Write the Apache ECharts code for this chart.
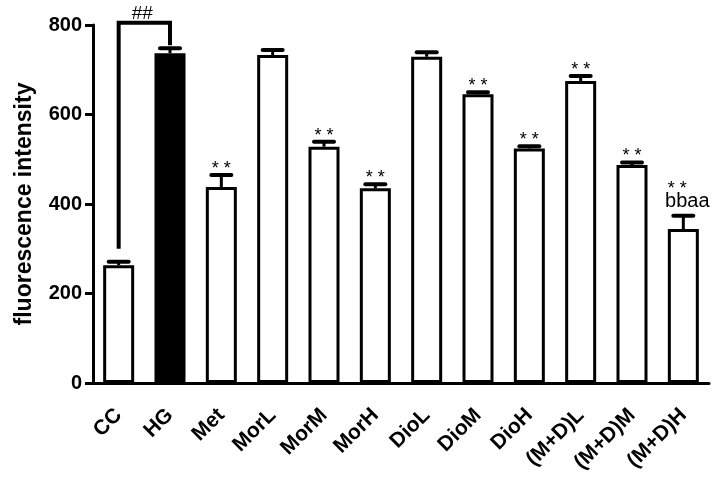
<!DOCTYPE html>
<html><head><meta charset="utf-8">
<script src="https://cdn.jsdelivr.net/npm/echarts@6/dist/echarts.min.js"></script>
<style>html,body{margin:0;padding:0;background:#fff}#c{width:726px;height:481px}</style>
</head><body><div id="c"></div>
<script>
const categories = ['CC','HG','Met','MorL','MorM','MorH','DioL','DioM','DioH','(M+D)L','(M+D)M','(M+D)H'];
const values = [263, 737, 438, 733, 528, 435, 729, 645, 524, 675, 487, 344];
const errors = [8, 11, 27, 11, 11, 9, 10, 5, 5, 11, 6, 30];
const stars = ['', '', '**', '', '**', '**', '', '**', '**', '**', '**', '**'];
const extra = ['', '', '', '', '', '', '', '', '', '', '', 'bbaa'];
const fillColors = ['#fff','#000','#fff','#fff','#fff','#fff','#fff','#fff','#fff','#fff','#fff','#fff'];
const yTicks = [0, 200, 400, 600, 800];
const bracketCats = ['CC','CC','HG','HG'];
const bracketVals = [300, 805, 805, 755];
const bracketLabel = '##';

const FONT = 'Arial, "Liberation Sans", sans-serif';
const chart = echarts.init(document.getElementById('c'));
chart.setOption({
  animation: false,
  backgroundColor: '#fff',
  grid: { left: 93, right: 17, top: 25, bottom: 98, containLabel: false },
  xAxis: {
    type: 'category', data: categories,
    axisLine: { lineStyle: { color: '#000', width: 3 } },
    axisTick: { alignWithLabel: true, length: 8, lineStyle: { color: '#000', width: 3 } },
    axisLabel: { rotate: 45, color: '#000', fontWeight: 'bold', fontSize: 21, fontFamily: FONT, margin: 29, interval: 0 }
  },
  yAxis: {
    type: 'value', min: yTicks[0], max: yTicks[yTicks.length-1], interval: 200,
    name: 'fluorescence intensity', nameLocation: 'middle', nameGap: 57,
    nameTextStyle: { color: '#000', fontWeight: 'bold', fontSize: 23, fontFamily: FONT },
    axisLine: { show: true, lineStyle: { color: '#000', width: 3 } },
    axisTick: { show: true, length: 8, lineStyle: { color: '#000', width: 3 } },
    axisLabel: { color: '#000', fontWeight: 'bold', fontSize: 20, fontFamily: FONT, margin: 11 },
    splitLine: { show: false }
  },
  series: [
    {
      type: 'bar', barWidth: 31,
      data: values.map((v, i) => ({ value: v, itemStyle: { color: fillColors[i] } })),
      itemStyle: { borderColor: '#000', borderWidth: 3 },
      z: 2
    },
    {
      type: 'custom', z: 3,
      data: values.map((v, i) => [i, v, errors[i]]),
      renderItem: function (params, api) {
        const i = api.value(0), v = api.value(1), e = api.value(2);
        const p0 = api.coord([i, v]);
        const p1 = api.coord([i, v + e]);
        const children = [
          { type: 'line', shape: { x1: p0[0], y1: p0[1], x2: p1[0], y2: p1[1] }, style: { stroke: '#000', lineWidth: 3 } },
          { type: 'line', shape: { x1: p1[0] - 10, y1: p1[1], x2: p1[0] + 10, y2: p1[1] }, style: { stroke: '#000', lineWidth: 4, lineCap: 'round' } }
        ];
        const s = stars[i], x = extra[i];
        if (x) {
          children.push({ type: 'text', style: { text: x, x: p1[0] + 4, y: p1[1] - 4, align: 'center', verticalAlign: 'bottom', font: '20px ' + FONT, fill: '#000' } });
          children.push({ type: 'text', style: { text: s.split('').join(' '), x: p1[0] - 6, y: p1[1] - 18, align: 'center', verticalAlign: 'bottom', font: '18px ' + FONT, fill: '#000' } });
        } else if (s) {
          children.push({ type: 'text', style: { text: s.split('').join(' '), x: p1[0], y: p1[1] + 3, align: 'center', verticalAlign: 'bottom', font: '18px ' + FONT, fill: '#000' } });
        }
        return { type: 'group', children: children };
      }
    },
    {
      type: 'line', clip: false, symbol: 'none', z: 4,
      data: bracketCats.map((c, i) => [c, bracketVals[i]]),
      lineStyle: { color: '#000', width: 4, join: 'miter' }
    },
    {
      type: 'custom', clip: false, z: 4,
      data: [[0, 1, bracketVals[1]]],
      renderItem: function (params, api) {
        const a = api.coord([api.value(0), api.value(2)]);
        const b = api.coord([api.value(1), api.value(2)]);
        return { type: 'text', style: { text: bracketLabel, x: (a[0] + b[0]) / 2 - 2, y: a[1] + 1, align: 'center', verticalAlign: 'bottom', font: '19px ' + FONT, fill: '#000' } };
      }
    }
  ]
});
</script></body></html>
